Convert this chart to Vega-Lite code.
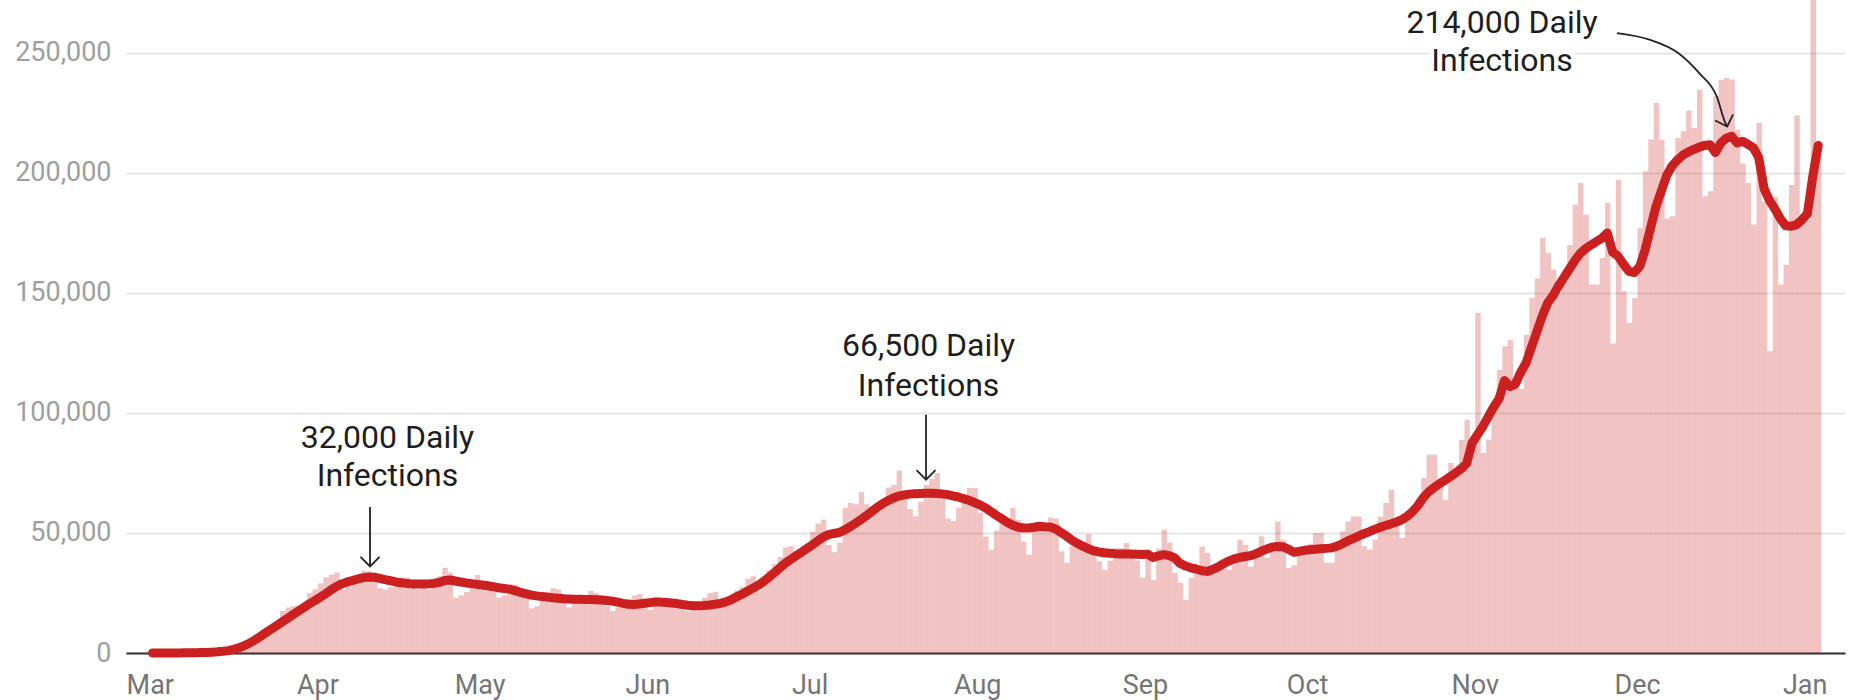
{
"$schema":"https://vega.github.io/schema/vega-lite/v6.json",
"width":1719,"height":653,"autosize":"none",
"padding":{"left":126,"top":0,"right":4,"bottom":47},
"background":"white",
"config":{"view":{"stroke":null},"font":"Roboto",
 "axisX":{"format":"%b","tickCount":{"interval":"month","step":1},"grid":false,"ticks":false,"tickSize":0,"domain":true,"domainColor":"#333333","domainWidth":2,"labelFont":"Roboto","labelFontSize":27,"labelColor":"#757575","labelPadding":19,"labelFlush":false,"labelOverlap":false,"labelBound":false,"zindex":1,"title":null},
 "axisY":{"grid":true,"gridColor":"#e6e6e6","gridWidth":2,"ticks":false,"tickSize":0,"domain":false,"labelFont":"Roboto","labelFontSize":27,"labelColor":"#9e9e9e","labelPadding":15,"title":null}
},
"datasets":{
"daily":[
{"date":"2020-03-01","cases":5,"avg":2},{"date":"2020-03-02","cases":10,"avg":5},{"date":"2020-03-03","cases":15,"avg":10},{"date":"2020-03-04","cases":30,"avg":20},{"date":"2020-03-05","cases":45,"avg":30},{"date":"2020-03-06","cases":70,"avg":45},{"date":"2020-03-07","cases":90,"avg":65},{"date":"2020-03-08","cases":110,"avg":90},{"date":"2020-03-09","cases":160,"avg":120},{"date":"2020-03-10","cases":250,"avg":160},{"date":"2020-03-11","cases":400,"avg":240},{"date":"2020-03-12","cases":500,"avg":340},{"date":"2020-03-13","cases":700,"avg":480},{"date":"2020-03-14","cases":1000,"avg":700},{"date":"2020-03-15","cases":1200,"avg":1000},{"date":"2020-03-16","cases":1700,"avg":1500},{"date":"2020-03-17","cases":2800,"avg":2200},{"date":"2020-03-18","cases":4500,"avg":3100},{"date":"2020-03-19","cases":5800,"avg":4200},{"date":"2020-03-20","cases":7000,"avg":5500},{"date":"2020-03-21","cases":8500,"avg":7000},{"date":"2020-03-22","cases":9500,"avg":8500},{"date":"2020-03-23","cases":10500,"avg":10000},{"date":"2020-03-24","cases":12000,"avg":11500},{"date":"2020-03-25","cases":17500,"avg":13000},{"date":"2020-03-26","cases":19000,"avg":14500},{"date":"2020-03-27","cases":19500,"avg":16000},{"date":"2020-03-28","cases":19800,"avg":17500},{"date":"2020-03-29","cases":20500,"avg":19000},{"date":"2020-03-30","cases":25000,"avg":20500},{"date":"2020-03-31","cases":26500,"avg":21800},
{"date":"2020-04-01","cases":29000,"avg":23200},{"date":"2020-04-02","cases":31500,"avg":24700},{"date":"2020-04-03","cases":32600,"avg":26300},{"date":"2020-04-04","cases":33500,"avg":27700},{"date":"2020-04-05","cases":26500,"avg":28800},{"date":"2020-04-06","cases":29500,"avg":29600},{"date":"2020-04-07","cases":31000,"avg":30200},{"date":"2020-04-08","cases":32000,"avg":30900},{"date":"2020-04-09","cases":34400,"avg":31400},{"date":"2020-04-10","cases":34000,"avg":31700},{"date":"2020-04-11","cases":30500,"avg":31600},{"date":"2020-04-12","cases":27000,"avg":31100},{"date":"2020-04-13","cases":26500,"avg":30600},{"date":"2020-04-14","cases":27500,"avg":30100},{"date":"2020-04-15","cases":29500,"avg":29600},{"date":"2020-04-16","cases":31000,"avg":29300},{"date":"2020-04-17","cases":31500,"avg":29000},{"date":"2020-04-18","cases":28500,"avg":28800},{"date":"2020-04-19","cases":26500,"avg":28700},{"date":"2020-04-20","cases":27000,"avg":28700},{"date":"2020-04-21","cases":26500,"avg":28800},{"date":"2020-04-22","cases":29000,"avg":29000},{"date":"2020-04-23","cases":32000,"avg":29400},{"date":"2020-04-24","cases":35500,"avg":30200},{"date":"2020-04-25","cases":33500,"avg":30400},{"date":"2020-04-26","cases":23000,"avg":30000},{"date":"2020-04-27","cases":24000,"avg":29600},{"date":"2020-04-28","cases":25500,"avg":29200},{"date":"2020-04-29","cases":27500,"avg":28900},{"date":"2020-04-30","cases":32500,"avg":28600},
{"date":"2020-05-01","cases":30000,"avg":28300},{"date":"2020-05-02","cases":28500,"avg":28000},{"date":"2020-05-03","cases":25500,"avg":27600},{"date":"2020-05-04","cases":23000,"avg":27200},{"date":"2020-05-05","cases":24000,"avg":26900},{"date":"2020-05-06","cases":25500,"avg":26600},{"date":"2020-05-07","cases":28500,"avg":26000},{"date":"2020-05-08","cases":27000,"avg":25300},{"date":"2020-05-09","cases":25000,"avg":24700},{"date":"2020-05-10","cases":18600,"avg":24100},{"date":"2020-05-11","cases":19500,"avg":23800},{"date":"2020-05-12","cases":21500,"avg":23500},{"date":"2020-05-13","cases":22500,"avg":23300},{"date":"2020-05-14","cases":27000,"avg":23000},{"date":"2020-05-15","cases":26500,"avg":22800},{"date":"2020-05-16","cases":24500,"avg":22600},{"date":"2020-05-17","cases":19000,"avg":22500},{"date":"2020-05-18","cases":21500,"avg":22400},{"date":"2020-05-19","cases":21000,"avg":22400},{"date":"2020-05-20","cases":21500,"avg":22300},{"date":"2020-05-21","cases":26000,"avg":22300},{"date":"2020-05-22","cases":25000,"avg":22200},{"date":"2020-05-23","cases":24000,"avg":22100},{"date":"2020-05-24","cases":19500,"avg":21900},{"date":"2020-05-25","cases":17500,"avg":21600},{"date":"2020-05-26","cases":19000,"avg":21200},{"date":"2020-05-27","cases":20000,"avg":20700},{"date":"2020-05-28","cases":22500,"avg":20300},{"date":"2020-05-29","cases":24000,"avg":20200},{"date":"2020-05-30","cases":24500,"avg":20400},{"date":"2020-05-31","cases":20000,"avg":20700},
{"date":"2020-06-01","cases":18000,"avg":21000},{"date":"2020-06-02","cases":21500,"avg":21300},{"date":"2020-06-03","cases":20000,"avg":21200},{"date":"2020-06-04","cases":22500,"avg":21000},{"date":"2020-06-05","cases":22500,"avg":20800},{"date":"2020-06-06","cases":22000,"avg":20600},{"date":"2020-06-07","cases":18000,"avg":20200},{"date":"2020-06-08","cases":17500,"avg":19900},{"date":"2020-06-09","cases":18500,"avg":19700},{"date":"2020-06-10","cases":21000,"avg":19700},{"date":"2020-06-11","cases":23000,"avg":19800},{"date":"2020-06-12","cases":25000,"avg":20000},{"date":"2020-06-13","cases":25500,"avg":20300},{"date":"2020-06-14","cases":19500,"avg":20700},{"date":"2020-06-15","cases":20000,"avg":21300},{"date":"2020-06-16","cases":23500,"avg":22200},{"date":"2020-06-17","cases":26000,"avg":23400},{"date":"2020-06-18","cases":27500,"avg":24500},{"date":"2020-06-19","cases":31000,"avg":25700},{"date":"2020-06-20","cases":32000,"avg":27000},{"date":"2020-06-21","cases":26000,"avg":28200},{"date":"2020-06-22","cases":30000,"avg":29800},{"date":"2020-06-23","cases":34500,"avg":31600},{"date":"2020-06-24","cases":37000,"avg":33500},{"date":"2020-06-25","cases":40000,"avg":35500},{"date":"2020-06-26","cases":44000,"avg":37400},{"date":"2020-06-27","cases":44500,"avg":39000},{"date":"2020-06-28","cases":41000,"avg":40500},{"date":"2020-06-29","cases":40500,"avg":42000},{"date":"2020-06-30","cases":44500,"avg":43500},
{"date":"2020-07-01","cases":50500,"avg":45000},{"date":"2020-07-02","cases":54000,"avg":46700},{"date":"2020-07-03","cases":55500,"avg":48300},{"date":"2020-07-04","cases":45000,"avg":49300},{"date":"2020-07-05","cases":42000,"avg":49800},{"date":"2020-07-06","cases":46000,"avg":50200},{"date":"2020-07-07","cases":60500,"avg":51300},{"date":"2020-07-08","cases":62500,"avg":52600},{"date":"2020-07-09","cases":62000,"avg":54100},{"date":"2020-07-10","cases":67000,"avg":55600},{"date":"2020-07-11","cases":62000,"avg":57200},{"date":"2020-07-12","cases":58500,"avg":59000},{"date":"2020-07-13","cases":60500,"avg":60700},{"date":"2020-07-14","cases":63500,"avg":62200},{"date":"2020-07-15","cases":69000,"avg":63500},{"date":"2020-07-16","cases":70000,"avg":64600},{"date":"2020-07-17","cases":76000,"avg":65400},{"date":"2020-07-18","cases":66000,"avg":65900},{"date":"2020-07-19","cases":60000,"avg":66200},{"date":"2020-07-20","cases":57000,"avg":66400},{"date":"2020-07-21","cases":63000,"avg":66500},{"date":"2020-07-22","cases":70000,"avg":66600},{"date":"2020-07-23","cases":72500,"avg":66600},{"date":"2020-07-24","cases":75000,"avg":66500},{"date":"2020-07-25","cases":66000,"avg":66300},{"date":"2020-07-26","cases":56000,"avg":66000},{"date":"2020-07-27","cases":55000,"avg":65500},{"date":"2020-07-28","cases":60500,"avg":65000},{"date":"2020-07-29","cases":66000,"avg":64300},{"date":"2020-07-30","cases":68800,"avg":63600},{"date":"2020-07-31","cases":68800,"avg":62700},
{"date":"2020-08-01","cases":58500,"avg":61700},{"date":"2020-08-02","cases":48500,"avg":60500},{"date":"2020-08-03","cases":43000,"avg":59000},{"date":"2020-08-04","cases":51000,"avg":57400},{"date":"2020-08-05","cases":54500,"avg":56000},{"date":"2020-08-06","cases":56000,"avg":54500},{"date":"2020-08-07","cases":60500,"avg":53300},{"date":"2020-08-08","cases":55500,"avg":52500},{"date":"2020-08-09","cases":46500,"avg":52100},{"date":"2020-08-10","cases":41000,"avg":52100},{"date":"2020-08-11","cases":52500,"avg":52400},{"date":"2020-08-12","cases":54000,"avg":52800},{"date":"2020-08-13","cases":53500,"avg":52600},{"date":"2020-08-14","cases":56500,"avg":52500},{"date":"2020-08-15","cases":56000,"avg":51700},{"date":"2020-08-16","cases":42300,"avg":50200},{"date":"2020-08-17","cases":37500,"avg":48700},{"date":"2020-08-18","cases":44500,"avg":47000},{"date":"2020-08-19","cases":47000,"avg":45700},{"date":"2020-08-20","cases":46000,"avg":44500},{"date":"2020-08-21","cases":49500,"avg":43500},{"date":"2020-08-22","cases":43000,"avg":42600},{"date":"2020-08-23","cases":38200,"avg":42100},{"date":"2020-08-24","cases":34700,"avg":41800},{"date":"2020-08-25","cases":38500,"avg":41600},{"date":"2020-08-26","cases":43700,"avg":41400},{"date":"2020-08-27","cases":43700,"avg":41300},{"date":"2020-08-28","cases":45800,"avg":41200},{"date":"2020-08-29","cases":42500,"avg":41200},{"date":"2020-08-30","cases":38500,"avg":41100},{"date":"2020-08-31","cases":31500,"avg":41000},
{"date":"2020-09-01","cases":40000,"avg":41200},{"date":"2020-09-02","cases":30500,"avg":39800},{"date":"2020-09-03","cases":43500,"avg":40500},{"date":"2020-09-04","cases":51400,"avg":41000},{"date":"2020-09-05","cases":46000,"avg":40600},{"date":"2020-09-06","cases":33400,"avg":39600},{"date":"2020-09-07","cases":29300,"avg":37300},{"date":"2020-09-08","cases":22200,"avg":36300},{"date":"2020-09-09","cases":31300,"avg":35500},{"date":"2020-09-10","cases":36000,"avg":35000},{"date":"2020-09-11","cases":44400,"avg":34300},{"date":"2020-09-12","cases":41700,"avg":34000},{"date":"2020-09-13","cases":35000,"avg":34800},{"date":"2020-09-14","cases":34000,"avg":35800},{"date":"2020-09-15","cases":38000,"avg":37200},{"date":"2020-09-16","cases":34700,"avg":38300},{"date":"2020-09-17","cases":41000,"avg":39200},{"date":"2020-09-18","cases":47200,"avg":39800},{"date":"2020-09-19","cases":45100,"avg":40200},{"date":"2020-09-20","cases":36000,"avg":40500},{"date":"2020-09-21","cases":40000,"avg":41300},{"date":"2020-09-22","cases":48600,"avg":42400},{"date":"2020-09-23","cases":39700,"avg":43300},{"date":"2020-09-24","cases":44500,"avg":44100},{"date":"2020-09-25","cases":54800,"avg":44400},{"date":"2020-09-26","cases":47000,"avg":44300},{"date":"2020-09-27","cases":35400,"avg":43300},{"date":"2020-09-28","cases":36500,"avg":42000},{"date":"2020-09-29","cases":42500,"avg":42300},{"date":"2020-09-30","cases":44000,"avg":42800},
{"date":"2020-10-01","cases":45500,"avg":43000},{"date":"2020-10-02","cases":50000,"avg":43200},{"date":"2020-10-03","cases":50000,"avg":43400},{"date":"2020-10-04","cases":37600,"avg":43600},{"date":"2020-10-05","cases":37600,"avg":43800},{"date":"2020-10-06","cases":46000,"avg":44500},{"date":"2020-10-07","cases":50700,"avg":45500},{"date":"2020-10-08","cases":54800,"avg":46700},{"date":"2020-10-09","cases":56900,"avg":47700},{"date":"2020-10-10","cases":56900,"avg":48700},{"date":"2020-10-11","cases":44500,"avg":49700},{"date":"2020-10-12","cases":43000,"avg":50600},{"date":"2020-10-13","cases":47200,"avg":51500},{"date":"2020-10-14","cases":56900,"avg":52400},{"date":"2020-10-15","cases":62500,"avg":53100},{"date":"2020-10-16","cases":68000,"avg":53800},{"date":"2020-10-17","cases":55500,"avg":54600},{"date":"2020-10-18","cases":47900,"avg":55500},{"date":"2020-10-19","cases":59000,"avg":57000},{"date":"2020-10-20","cases":61000,"avg":58900},{"date":"2020-10-21","cases":61000,"avg":61500},{"date":"2020-10-22","cases":72900,"avg":64800},{"date":"2020-10-23","cases":82600,"avg":67200},{"date":"2020-10-24","cases":82600,"avg":69000},{"date":"2020-10-25","cases":69400,"avg":70600},{"date":"2020-10-26","cases":63900,"avg":72000},{"date":"2020-10-27","cases":79200,"avg":73500},{"date":"2020-10-28","cases":76000,"avg":75100},{"date":"2020-10-29","cases":88900,"avg":76800},{"date":"2020-10-30","cases":97200,"avg":79000},{"date":"2020-10-31","cases":88200,"avg":87500},
{"date":"2020-11-01","cases":141700,"avg":91000},{"date":"2020-11-02","cases":83300,"avg":94400},{"date":"2020-11-03","cases":88900,"avg":98500},{"date":"2020-11-04","cases":105000,"avg":102500},{"date":"2020-11-05","cases":118000,"avg":106000},{"date":"2020-11-06","cases":127800,"avg":113500},{"date":"2020-11-07","cases":130500,"avg":111000},{"date":"2020-11-08","cases":112500,"avg":112000},{"date":"2020-11-09","cases":110000,"avg":117000},{"date":"2020-11-10","cases":132600,"avg":121000},{"date":"2020-11-11","cases":147900,"avg":127500},{"date":"2020-11-12","cases":156000,"avg":134000},{"date":"2020-11-13","cases":172900,"avg":140500},{"date":"2020-11-14","cases":166700,"avg":146000},{"date":"2020-11-15","cases":159700,"avg":149000},{"date":"2020-11-16","cases":150000,"avg":153000},{"date":"2020-11-17","cases":157000,"avg":156500},{"date":"2020-11-18","cases":170000,"avg":160000},{"date":"2020-11-19","cases":186800,"avg":163500},{"date":"2020-11-20","cases":195800,"avg":166500},{"date":"2020-11-21","cases":182600,"avg":168500},{"date":"2020-11-22","cases":153500,"avg":170000},{"date":"2020-11-23","cases":153500,"avg":171500},{"date":"2020-11-24","cases":164600,"avg":172800},{"date":"2020-11-25","cases":187500,"avg":175000},{"date":"2020-11-26","cases":129000,"avg":167000},{"date":"2020-11-27","cases":197200,"avg":165300},{"date":"2020-11-28","cases":150700,"avg":162000},{"date":"2020-11-29","cases":137500,"avg":159000},{"date":"2020-11-30","cases":147900,"avg":158500},
{"date":"2020-12-01","cases":177000,"avg":161000},{"date":"2020-12-02","cases":200700,"avg":168000},{"date":"2020-12-03","cases":214000,"avg":177000},{"date":"2020-12-04","cases":229200,"avg":186000},{"date":"2020-12-05","cases":213900,"avg":192500},{"date":"2020-12-06","cases":181000,"avg":199000},{"date":"2020-12-07","cases":182000,"avg":203000},{"date":"2020-12-08","cases":214600,"avg":205500},{"date":"2020-12-09","cases":217400,"avg":207500},{"date":"2020-12-10","cases":226000,"avg":208800},{"date":"2020-12-11","cases":218700,"avg":209800},{"date":"2020-12-12","cases":234700,"avg":210800},{"date":"2020-12-13","cases":190300,"avg":211500},{"date":"2020-12-14","cases":192400,"avg":211800},{"date":"2020-12-15","cases":232000,"avg":208500},{"date":"2020-12-16","cases":238900,"avg":212500},{"date":"2020-12-17","cases":239600,"avg":214500},{"date":"2020-12-18","cases":239000,"avg":215300},{"date":"2020-12-19","cases":218000,"avg":212500},{"date":"2020-12-20","cases":204000,"avg":213200},{"date":"2020-12-21","cases":195800,"avg":212000},{"date":"2020-12-22","cases":178500,"avg":210500},{"date":"2020-12-23","cases":220800,"avg":206500},{"date":"2020-12-24","cases":188000,"avg":193500},{"date":"2020-12-25","cases":125700,"avg":188500},{"date":"2020-12-26","cases":190000,"avg":185000},{"date":"2020-12-27","cases":153500,"avg":181000},{"date":"2020-12-28","cases":161800,"avg":178000},{"date":"2020-12-29","cases":195000,"avg":177800},{"date":"2020-12-30","cases":224000,"avg":178500},{"date":"2020-12-31","cases":180500,"avg":180500},
{"date":"2021-01-01","cases":180500,"avg":183000},{"date":"2021-01-02","cases":300000,"avg":198600},{"date":"2021-01-03","cases":207000,"avg":211500}
],
"labels":[
{"date":"2020-04-13T22:48Z","value":85400,"text":"32,000 Daily"},
{"date":"2020-04-13T22:48Z","value":69400,"text":"Infections"},
{"date":"2020-07-23T00:00Z","value":123600,"text":"66,500 Daily"},
{"date":"2020-07-23T00:00Z","value":106900,"text":"Infections"},
{"date":"2020-11-06T01:00Z","value":258300,"text":"214,000 Daily"},
{"date":"2020-11-06T01:00Z","value":242300,"text":"Infections"}
],
"arrows":[
{"date":"2020-04-10T17:17Z","top":60800,"tip":36100},
{"date":"2020-07-22T12:43Z","top":99300,"tip":72200}
],
"curve":[
{"date":"2020-11-27T06:43Z","value":258300},
{"date":"2020-12-03T10:05Z","value":255500},
{"date":"2020-12-08T14:53Z","value":250000},
{"date":"2020-12-12T12:00Z","value":241600},
{"date":"2020-12-15T17:46Z","value":231900},
{"date":"2020-12-17T08:24Z","value":220800},
{"date":"2020-12-17T16:19Z","value":219400}
],
"curvetip":[
{"date":"2020-12-17T16:19Z","value":219400}
]
},
"layer":[
{"data":{"name":"daily"},
 "mark":{"type":"bar","color":"#cc2020","opacity":0.27,"clip":true,"binSpacing":0},
 "encoding":{
  "x":{"field":"date","type":"temporal","timeUnit":"utcyearmonthdate","title":null,
   "scale":{"type":"utc","domain":[1582640553600,1610103657600],"nice":false}},
  "y":{"field":"cases","type":"quantitative","title":null,
   "scale":{"domain":[0,272083],"nice":false},
   "axis":{"values":[0,50000,100000,150000,200000,250000],"format":",d"}}
 }},
{"data":{"name":"daily"},
 "mark":{"type":"line","color":"#cc1f1f","strokeWidth":9,"strokeCap":"round","strokeJoin":"round"},
 "encoding":{
  "x":{"field":"date","type":"temporal","timeUnit":"utcyearmonthdate","bandPosition":0.5,"title":null,"scale":{"type":"utc"}},
  "y":{"field":"avg","type":"quantitative","title":null}
 }},
{"data":{"name":"arrows"},
 "mark":{"type":"rule","color":"#222222","strokeWidth":1.8},
 "encoding":{
  "x":{"field":"date","type":"temporal","title":null,"scale":{"type":"utc"}},
  "y":{"field":"top","type":"quantitative","title":null},
  "y2":{"field":"tip"}
 }},
{"data":{"name":"arrows"},
 "mark":{"type":"point","shape":"M-1,-1L0,0L1,-1","size":361,"filled":false,"stroke":"#222222","strokeWidth":1.8,"opacity":1},
 "encoding":{
  "x":{"field":"date","type":"temporal","title":null,"scale":{"type":"utc"}},
  "y":{"field":"tip","type":"quantitative","title":null}
 }},
{"data":{"name":"labels"},
 "mark":{"type":"text","font":"Roboto","fontSize":32,"align":"center","baseline":"alphabetic","color":"white","stroke":"white","strokeWidth":10,"strokeJoin":"round"},
 "encoding":{
  "x":{"field":"date","type":"temporal","title":null,"scale":{"type":"utc"}},
  "y":{"field":"value","type":"quantitative","title":null},
  "text":{"field":"text"}
 }},
{"data":{"name":"curve"},
 "mark":{"type":"line","color":"#222222","strokeWidth":1.8,"interpolate":"monotone"},
 "encoding":{
  "x":{"field":"date","type":"temporal","title":null,"scale":{"type":"utc"}},
  "y":{"field":"value","type":"quantitative","title":null}
 }},
{"data":{"name":"curvetip"},
 "mark":{"type":"point","shape":"M-1,-1L0,0L1,-1","size":361,"filled":false,"stroke":"#222222","strokeWidth":1.8,"opacity":1,"angle":-19},
 "encoding":{
  "x":{"field":"date","type":"temporal","title":null,"scale":{"type":"utc"}},
  "y":{"field":"value","type":"quantitative","title":null}
 }},
{"data":{"name":"labels"},
 "mark":{"type":"text","font":"Roboto","fontSize":32,"align":"center","baseline":"alphabetic","color":"#1e1e1e"},
 "encoding":{
  "x":{"field":"date","type":"temporal","title":null,"scale":{"type":"utc"}},
  "y":{"field":"value","type":"quantitative","title":null},
  "text":{"field":"text"}
 }}
]
}
